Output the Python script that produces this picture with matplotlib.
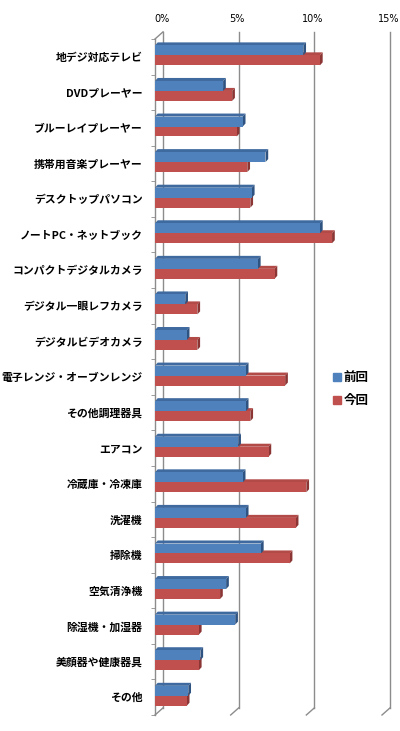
import numpy as np
import matplotlib
matplotlib.use('Agg')
import matplotlib.pyplot as plt
from matplotlib.patches import Polygon, Patch

plt.rcParams['font.family'] = ['Noto Sans CJK JP', 'DejaVu Sans']

# data (% of respondents)
categories = ['地デジ対応テレビ', 'DVDプレーヤー', 'ブルーレイプレーヤー', '携帯用音楽プレーヤー',
              'デスクトップパソコン', 'ノートPC・ネットブック', 'コンパクトデジタルカメラ',
              'デジタル一眼レフカメラ', 'デジタルビデオカメラ', '電子レンジ・オーブンレンジ',
              'その他調理器具', 'エアコン', '冷蔵庫・冷凍庫', '洗濯機', '掃除機', '空気清浄機',
              '除湿機・加湿器', '美顔器や健康器具', 'その他']
prev_vals = [9.8, 4.5, 5.8, 7.3, 6.4, 10.9, 6.8, 2.0, 2.1, 6.0, 6.0, 5.5, 5.8, 6.0, 7.0, 4.7, 5.3, 3.0, 2.2]
curr_vals = [10.9, 5.1, 5.4, 6.1, 6.3, 11.7, 7.9, 2.8, 2.8, 8.6, 6.3, 7.5, 10.0, 9.3, 8.9, 4.3, 2.9, 2.9, 2.1]
series_names = ['前回', '今回']
xticks = [0, 5, 10, 15]

fig = plt.figure(figsize=(4, 7.31), dpi=100)
ax = fig.add_axes([155 / 400, 16 / 731, 227 / 400, 676 / 731])
n = len(categories)
ax.set_xlim(0, 15)
ax.set_ylim(n - 0.5, -0.5)

# fake 3D depth
wall_dx, wall_dy = 0.53, 0.2
bar_dx, bar_dy = 0.18, 0.085
h = 0.28

# back wall gridlines + floor diagonals
for v in xticks:
    ax.plot([v + wall_dx, v + wall_dx], [-0.5 - wall_dy, n - 0.5 - wall_dy], color='#8c8c8c', lw=1, clip_on=False, zorder=1)
    ax.plot([v, v + wall_dx], [n - 0.5, n - 0.5 - wall_dy], color='#8c8c8c', lw=1, clip_on=False, zorder=1)
    ax.text(v + wall_dx - 0.1, -0.5 - 0.55, f'{v}%', ha='center', va='center', fontsize=7,
            family='DejaVu Sans', clip_on=False)
# left axis and top-left diagonal
ax.plot([0, 0], [-0.5, n - 0.5], color='#8c8c8c', lw=1, clip_on=False, zorder=1)
ax.plot([0, wall_dx], [-0.5, -0.5 - wall_dy], color='#8c8c8c', lw=1, clip_on=False, zorder=1)


def bar3d(y, w, front, top, side):
    y0, y1 = y - h / 2, y + h / 2
    ax.add_patch(Polygon([[0, y0], [w, y0], [w, y1], [0, y1]], closed=True, fc=front, ec='none', zorder=3))
    ax.add_patch(Polygon([[0, y0], [bar_dx, y0 - bar_dy], [w + bar_dx, y0 - bar_dy], [w, y0]],
                         closed=True, fc=top, ec='none', zorder=2, clip_on=False))
    ax.add_patch(Polygon([[w, y0], [w + bar_dx, y0 - bar_dy], [w + bar_dx, y1 - bar_dy], [w, y1]],
                         closed=True, fc=side, ec='none', zorder=2, clip_on=False))


for i in range(n):
    bar3d(i + 0.10, curr_vals[i], '#c0504d', '#b24a47', '#8b3634')
    bar3d(i - 0.18, prev_vals[i], '#4f81bd', '#3f6aa0', '#2f5381')

for s in ax.spines.values():
    s.set_visible(False)
ax.set_xticks([])
ax.set_yticks(range(n))
ax.set_yticklabels(categories, fontsize=7.8, fontweight='bold')
ax.tick_params(axis='y', length=0, pad=9)
ax.set_yticks(np.arange(-0.5, n, 1), minor=True)
ax.tick_params(axis='y', which='minor', length=3, color='#8c8c8c', direction='out')

handles = [Patch(color='#4f81bd'), Patch(color='#c0504d')]
fig.legend(handles, series_names, loc='center left', bbox_to_anchor=(322 / 400, 1 - 389 / 731),
           frameon=False, handlelength=0.6, handleheight=0.6, handletextpad=0.25,
           labelspacing=0.8, prop={'size': 9, 'weight': 'bold'})

fig.savefig('out.png', dpi=100, facecolor='white')
